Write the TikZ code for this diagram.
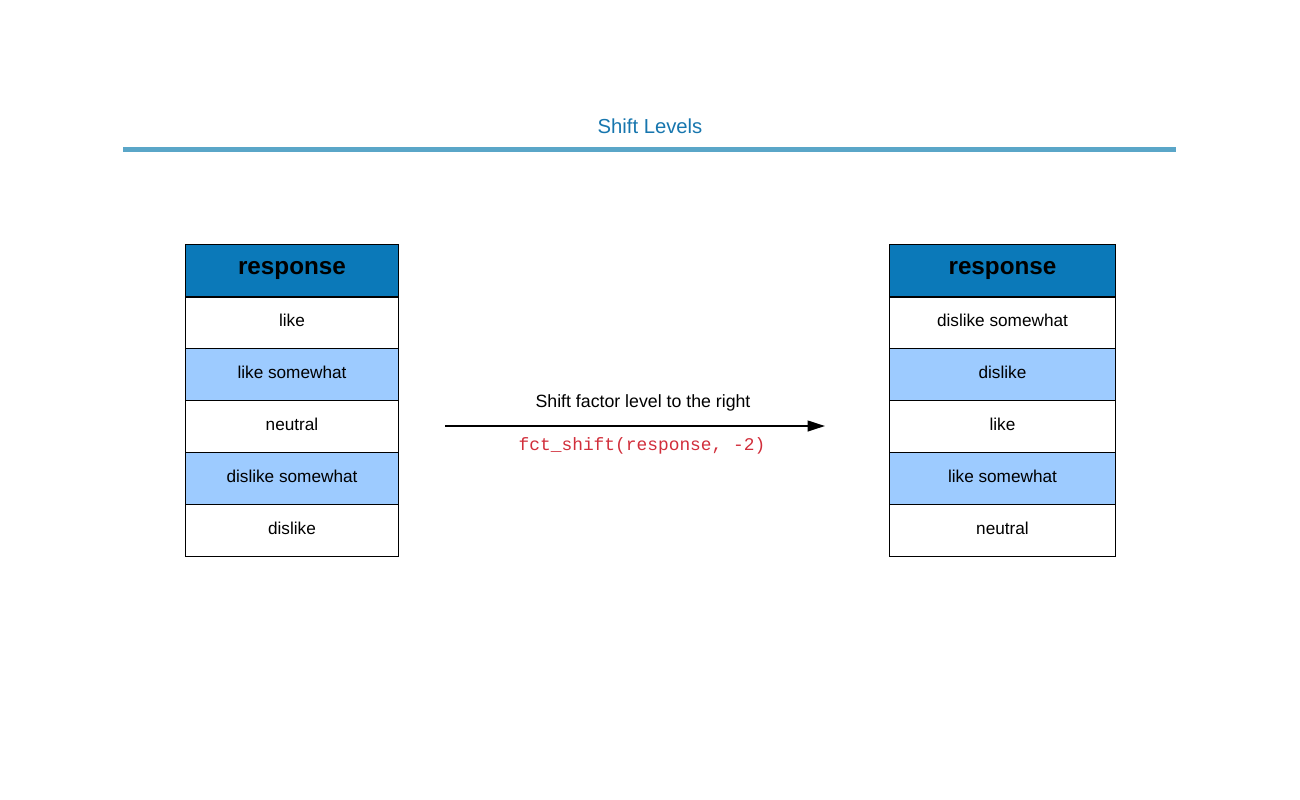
\documentclass[tikz,border=0pt]{standalone}
\usepackage{fontspec}
\setmainfont{Liberation Sans}
\setmonofont{Liberation Mono}
\usetikzlibrary{arrows.meta,positioning}
\definecolor{headblue}{HTML}{0B79B9}
\definecolor{rowblue}{HTML}{9DCBFF}
\definecolor{titleblue}{HTML}{1776AE}
\definecolor{ruleblue}{HTML}{5AA6C8}
\definecolor{codered}{HTML}{D12E3B}
\begin{document}
\begin{tikzpicture}[x = .75pt, y = -.75pt,
    cell/.style = {draw, line width = .75pt, minimum height = 39pt, inner sep = 0pt, anchor = north west},
    row/.style = {cell, text height = 9.5pt, text depth = 4.2pt, font = \fontsize{12.9}{15}\selectfont},
    head/.style = {cell, fill = headblue, font = \bfseries\fontsize{18.2}{20}\selectfont}]
      \useasboundingbox (0,0) rectangle (1300,800);
      \node [text = titleblue, font = \fontsize{15.2}{18}\selectfont] (title) at (650,126) {Shift Levels};
      \draw [ruleblue, line width = 3.75pt] (123,149) -- (1176,149);
      % left table
      \node [head, minimum width = 159.75pt] (lhead) at (185,244) {response};
      \foreach \txt/\fil [count = \i] in {like/white, like somewhat/rowblue, neutral/white, dislike somewhat/rowblue, dislike/white}
        \node [row, fill = \fil, minimum width = 159.75pt] (l\i) at (185, 244 + 52*\i) {\txt};
      \draw [line width = 1.5pt] (lhead.south west) -- (lhead.south east);
      % right table
      \node [head, minimum width = 169.5pt] (rhead) at (889,244) {response};
      \foreach \txt/\fil [count = \i] in {dislike somewhat/white, dislike/rowblue, like/white, like somewhat/rowblue, neutral/white}
        \node [row, fill = \fil, minimum width = 169.5pt] (r\i) at (889, 244 + 52*\i) {\txt};
      \draw [line width = 1.5pt] (rhead.south west) -- (rhead.south east);
      % arrow
      \coordinate (from) at (445,426);
      \coordinate (to) at (825,426);
      \draw [-{Triangle[length = 13pt, width = 8pt]}, line width = 1.4pt] (from) -- (to);
      \node [font = \fontsize{13.3}{16}\selectfont] (shiftlbl) at (643,403) {Shift factor level to the right};
      \node [text = codered, font = \ttfamily\fontsize{13.4}{16}\selectfont] (codelbl) at (642,446) {fct\_shift(response, -2)};
\end{tikzpicture}
\end{document}
